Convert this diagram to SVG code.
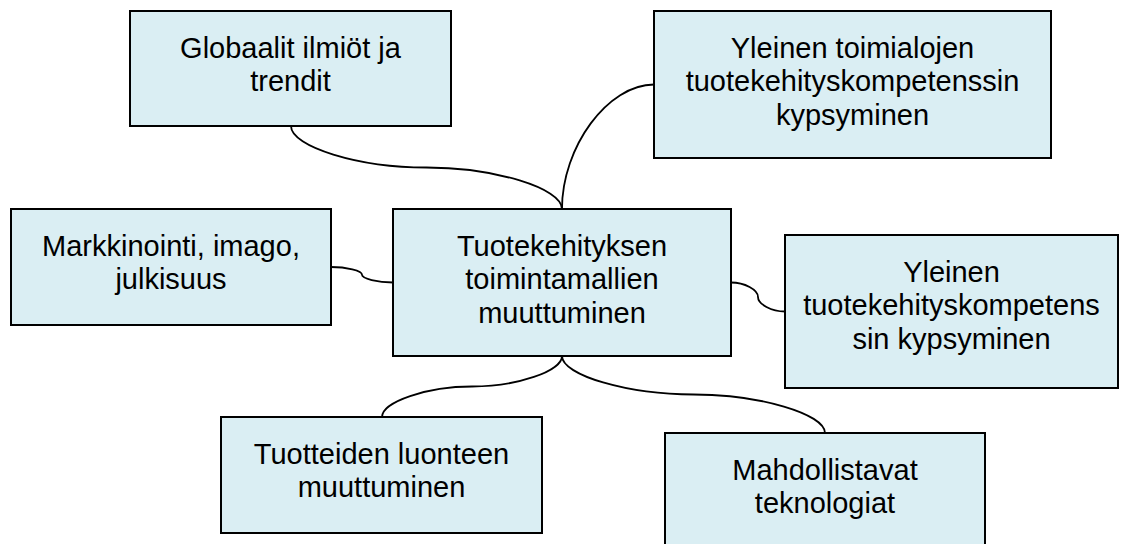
<svg xmlns="http://www.w3.org/2000/svg" width="1121" height="544" viewBox="0 0 1121 544">
<style>
.box{fill:#DAEEF3;stroke:#000;stroke-width:2}
.t{font-family:"Liberation Sans",Arial,sans-serif;font-size:29px;fill:#000;text-anchor:middle}
.c{fill:none;stroke:#000;stroke-width:1.8}
</style>
<rect width="1121" height="544" fill="#fff"/>
<g id="connectors">
<path class="c" d="M291,126 C291,146.75 358.75,167.5 426.5,167.5 C494.25,167.5 562,188.25 562,209"/>
<path class="c" d="M562,209 C562,146.75 608,84.5 654,84.5"/>
<path class="c" d="M331,267 C346.5,267 362,270.9 362,274.75 C362,278.6 377.5,282.5 393,282.5"/>
<path class="c" d="M731,282.5 C744.5,282.5 758,289.75 758,297 C758,304.25 771.5,311.5 785,311.5"/>
<path class="c" d="M562,356 C562,371.25 517,386.5 472,386.5 C427,386.5 382,401.75 382,417"/>
<path class="c" d="M562,356 C562,375.25 627.75,394.5 693.5,394.5 C759.25,394.5 825,413.75 825,433"/>
</g>
<g id="globaalit">
<rect class="box" x="130" y="11" width="321" height="115"/>
<text class="t" x="290.5" y="57.5">Globaalit ilmiöt ja</text>
<text class="t" x="290.5" y="91">trendit</text>
</g>
<g id="toimialojen">
<rect class="box" x="654" y="11" width="397" height="147"/>
<text class="t" x="852.5" y="57.5">Yleinen toimialojen</text>
<text class="t" x="852.5" y="91">tuotekehityskompetenssin</text>
<text class="t" x="852.5" y="124.5">kypsyminen</text>
</g>
<g id="markkinointi">
<rect class="box" x="11" y="209" width="320" height="116"/>
<text class="t" x="171" y="255.5">Markkinointi, imago,</text>
<text class="t" x="171" y="289">julkisuus</text>
</g>
<g id="central">
<rect class="box" x="393" y="209" width="338" height="147"/>
<text class="t" x="562" y="255.5">Tuotekehityksen</text>
<text class="t" x="562" y="289">toimintamallien</text>
<text class="t" x="562" y="322.5">muuttuminen</text>
</g>
<g id="kompetenssi">
<rect class="box" x="785" y="235" width="333" height="153"/>
<text class="t" x="951.5" y="281.5">Yleinen</text>
<text class="t" x="951.5" y="315">tuotekehityskompetens</text>
<text class="t" x="951.5" y="348.5">sin kypsyminen</text>
</g>
<g id="tuotteiden">
<rect class="box" x="221" y="417" width="321" height="116"/>
<text class="t" x="381.5" y="463.5">Tuotteiden luonteen</text>
<text class="t" x="381.5" y="497">muuttuminen</text>
</g>
<g id="mahdollistavat">
<rect class="box" x="665" y="433" width="320" height="125"/>
<text class="t" x="825" y="479.5">Mahdollistavat</text>
<text class="t" x="825" y="513">teknologiat</text>
</g>
</svg>
